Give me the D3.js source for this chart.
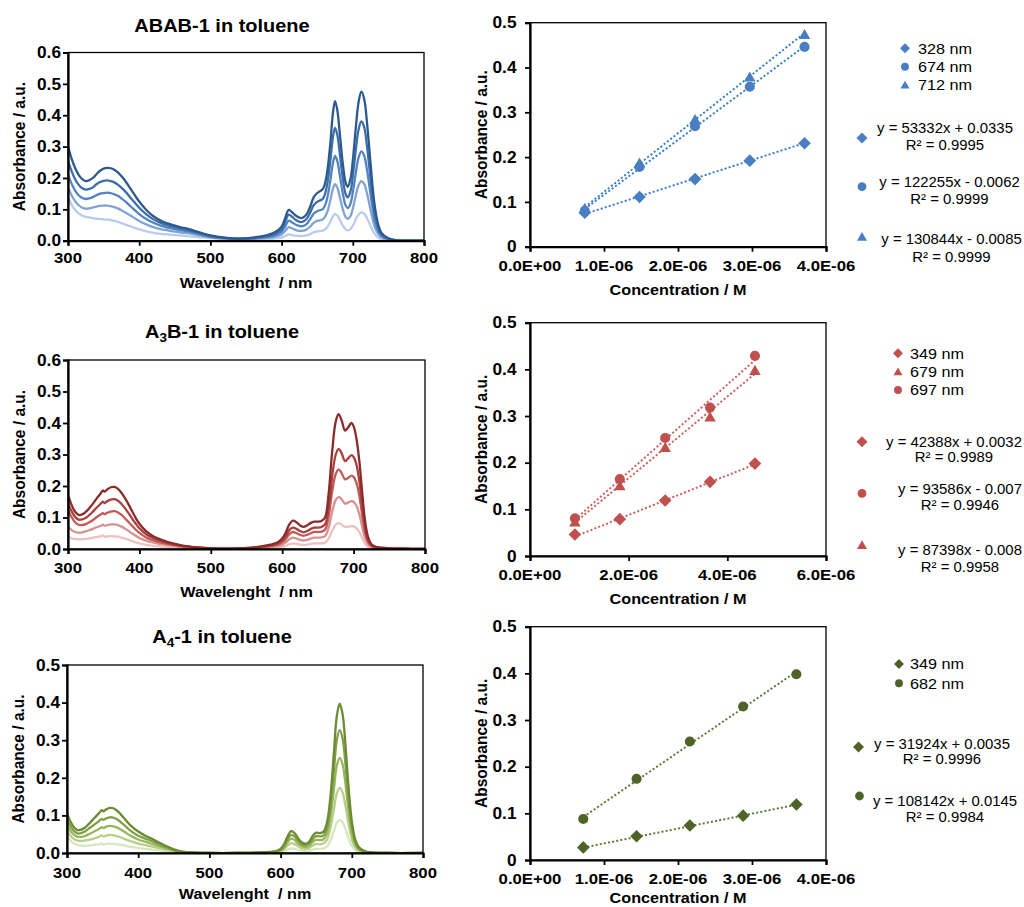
<!DOCTYPE html>
<html>
<head>
<meta charset="utf-8">
<script src="https://cdn.jsdelivr.net/npm/d3@7"></script>
<style>
  html, body { margin: 0; padding: 0; background: #fff; }
  svg { display: block; }
</style>
</head>
<body>
<svg id="fig" width="1024" height="907"></svg>
<script>
// ---------- UV-vis spectra (absorbance vs wavelength, five concentrations each) ----------
const WL_ABAB = [300,305,310,315,320,325,330,335,340,345,350,355,360,365,370,375,380,385,390,395,400,410,420,430,440,450,460,470,480,490,500,520,540,560,580,590,600,605,610,615,620,628,635,640,645,650,658,663,668,672,675,678,682,686,690,693,697,700,704,708,712,716,720,725,730,735,740,750,760,780,800];
const abab1 = [.140,.115,.098,.087,.080,.076,.074,.072,.070,.069,.068,.067,.066,.063,.060,.056,.052,.048,.044,.040,.036,.030,.025,.022,.020,.018,.016,.014,.012,.010,.008,.006,.005,.005,.006,.007,.010,.015,.020,.018,.016,.015,.017,.021,.027,.030,.032,.040,.058,.078,.085,.081,.065,.048,.036,.033,.038,.048,.067,.083,.090,.086,.071,.047,.024,.011,.005,.002,.001,0,0];
const abab2 = [.170,.145,.126,.113,.105,.102,.103,.106,.109,.111,.112,.112,.110,.107,.103,.097,.091,.084,.077,.070,.063,.052,.043,.037,.033,.029,.026,.023,.019,.015,.011,.007,.005,.006,.009,.012,.020,.031,.043,.039,.034,.031,.036,.045,.057,.063,.068,.085,.124,.165,.180,.171,.137,.100,.075,.070,.080,.102,.142,.176,.190,.181,.150,.098,.050,.024,.011,.003,.001,0,0];
const abab3 = [.210,.182,.160,.145,.136,.133,.135,.139,.145,.150,.152,.153,.152,.148,.143,.135,.126,.116,.105,.095,.085,.069,.057,.048,.042,.037,.033,.029,.024,.018,.013,.008,.005,.007,.012,.017,.029,.046,.064,.058,.051,.046,.053,.068,.086,.094,.101,.126,.185,.246,.270,.256,.205,.150,.112,.104,.120,.154,.213,.264,.285,.271,.225,.147,.075,.035,.016,.005,.001,0,0];
const abab4 = [.255,.222,.196,.178,.167,.163,.165,.170,.180,.187,.191,.192,.190,.186,.179,.169,.158,.145,.131,.118,.105,.084,.068,.057,.049,.043,.038,.033,.027,.021,.015,.009,.006,.009,.015,.021,.037,.060,.083,.076,.066,.059,.069,.089,.113,.124,.134,.167,.245,.328,.360,.340,.272,.198,.148,.138,.160,.205,.285,.353,.380,.362,.300,.196,.100,.047,.021,.006,.002,0,0];
const abab5 = [.300,.262,.232,.210,.196,.190,.193,.200,.212,.223,.230,.232,.231,.226,.218,.206,.192,.175,.158,.141,.125,.098,.078,.064,.055,.048,.042,.037,.030,.023,.017,.010,.007,.010,.018,.026,.045,.072,.098,.090,.080,.072,.084,.108,.138,.152,.165,.205,.300,.405,.445,.420,.335,.245,.185,.172,.200,.255,.355,.440,.475,.452,.375,.245,.125,.058,.026,.008,.002,0,0];

const WL_A3B = [300,305,310,315,320,325,330,335,340,345,349,351,355,360,365,370,375,380,385,390,395,400,410,420,430,440,450,460,470,480,500,520,540,560,580,590,595,600,605,610,615,620,625,630,635,640,645,650,655,660,665,670,675,679,683,688,692,697,700,704,708,712,716,720,725,730,740,750,770,800];
const a3b1 = [.039,.034,.032,.031,.031,.032,.034,.036,.038,.040,.043,.039,.040,.041,.040,.039,.036,.033,.029,.025,.021,.018,.013,.010,.008,.006,.005,.004,.003,.002,.001,.001,.001,.001,.003,.004,.005,.007,.010,.015,.018,.016,.014,.013,.014,.016,.018,.018,.018,.020,.033,.058,.077,.082,.078,.070,.071,.073,.072,.066,.054,.035,.017,.008,.003,.002,.001,.001,0,0];
const a3b2 = [.071,.060,.054,.052,.053,.056,.060,.064,.069,.073,.077,.074,.076,.078,.078,.076,.071,.064,.057,.049,.042,.035,.026,.020,.016,.012,.009,.007,.005,.003,.002,.001,.001,.002,.005,.008,.010,.014,.021,.031,.036,.033,.029,.027,.029,.033,.036,.036,.037,.041,.067,.119,.156,.165,.158,.144,.147,.152,.150,.137,.111,.071,.035,.016,.007,.003,.002,.001,0,0];
const a3b3 = [.124,.101,.085,.077,.076,.079,.085,.092,.101,.108,.114,.110,.115,.119,.120,.116,.108,.097,.085,.073,.061,.051,.036,.027,.021,.016,.012,.008,.006,.004,.002,.001,.001,.003,.008,.012,.015,.021,.032,.047,.054,.050,.045,.042,.045,.050,.054,.054,.055,.061,.103,.183,.238,.253,.242,.221,.225,.233,.229,.210,.170,.108,.054,.024,.010,.005,.002,.001,.001,0];
const a3b4 = [.145,.120,.102,.093,.094,.099,.108,.119,.131,.142,.150,.146,.152,.157,.158,.153,.143,.129,.113,.096,.080,.066,.046,.034,.026,.019,.014,.010,.007,.005,.002,.001,.002,.004,.010,.015,.019,.027,.041,.060,.068,.064,.057,.053,.057,.064,.068,.068,.070,.078,.131,.231,.300,.318,.305,.279,.287,.298,.292,.268,.216,.137,.069,.030,.012,.006,.003,.002,.001,0];
const a3b5 = [.171,.140,.118,.108,.110,.118,.130,.144,.160,.174,.186,.182,.189,.196,.197,.191,.178,.161,.141,.119,.098,.080,.055,.040,.030,.022,.016,.011,.008,.005,.002,.001,.002,.005,.012,.018,.023,.033,.052,.078,.090,.085,.075,.070,.075,.083,.087,.087,.089,.100,.175,.310,.405,.428,.410,.376,.385,.400,.390,.350,.280,.180,.090,.040,.015,.008,.004,.002,.001,0];

const WL_A4 = [300,305,310,315,320,325,330,335,340,345,349,351,355,360,365,370,375,380,390,400,410,420,430,440,450,460,470,480,500,540,580,590,595,600,605,610,615,620,625,630,635,640,645,650,655,660,665,670,675,679,683,687,691,695,700,705,710,720,730,750,800];
const a4_1 = [.045,.033,.025,.021,.019,.019,.020,.021,.022,.023,.025,.022,.024,.025,.024,.023,.022,.020,.016,.013,.011,.009,.007,.005,.003,.001,.001,0,0,0,0,.001,.001,.002,.005,.009,.012,.011,.008,.006,.005,.006,.009,.011,.011,.012,.017,.033,.060,.081,.088,.082,.064,.041,.019,.008,.003,.001,0,0,0];
const a4_2 = [.060,.046,.037,.033,.032,.033,.035,.037,.040,.043,.047,.044,.046,.048,.047,.045,.042,.038,.031,.025,.021,.017,.013,.009,.005,.002,.001,.001,0,0,.001,.002,.003,.005,.011,.020,.026,.023,.017,.012,.011,.013,.020,.024,.023,.025,.035,.066,.118,.159,.173,.161,.126,.081,.037,.015,.006,.002,.001,0,0];
const a4_3 = [.075,.059,.048,.043,.043,.045,.049,.054,.059,.064,.069,.066,.070,.072,.071,.068,.063,.057,.045,.036,.030,.024,.018,.012,.007,.003,.001,.001,0,0,.001,.002,.004,.007,.015,.029,.038,.034,.024,.018,.016,.019,.029,.035,.034,.036,.051,.096,.172,.233,.253,.236,.185,.118,.054,.022,.009,.002,.001,0,0];
const a4_4 = [.090,.071,.058,.052,.053,.057,.064,.071,.078,.085,.091,.088,.092,.095,.094,.090,.083,.075,.058,.046,.038,.031,.023,.015,.008,.003,.002,.001,0,0,.002,.003,.005,.009,.020,.037,.048,.043,.031,.023,.021,.025,.037,.045,.044,.046,.066,.124,.222,.301,.327,.305,.239,.152,.070,.029,.012,.003,.001,0,0];
const a4_5 = [.106,.083,.068,.061,.062,.067,.076,.086,.096,.106,.114,.111,.116,.120,.119,.113,.104,.093,.072,.057,.046,.037,.027,.018,.010,.004,.002,.001,0,0,.002,.004,.006,.011,.024,.045,.058,.052,.038,.028,.025,.030,.045,.054,.053,.056,.080,.150,.270,.365,.397,.370,.290,.185,.085,.035,.015,.004,.001,0,0];

// ---------- Calibration points (absorbance vs concentration) ----------
const CONC_ABAB = [0.74e-6, 1.48e-6, 2.23e-6, 2.97e-6, 3.71e-6];
const ABAB_328 = [0.076, 0.111, 0.151, 0.192, 0.231];
const ABAB_674 = [0.080, 0.178, 0.269, 0.357, 0.446];
const ABAB_712 = [0.086, 0.187, 0.284, 0.379, 0.474];

const CONC_A3B = [0.91e-6, 1.82e-6, 2.74e-6, 3.65e-6, 4.56e-6];
const A3B_349 = [0.046, 0.079, 0.119, 0.159, 0.198];
const A3B_679 = [0.073, 0.151, 0.233, 0.298, 0.398];
const A3B_697 = [0.081, 0.165, 0.253, 0.318, 0.429];

const CONC_A4 = [0.72e-6, 1.44e-6, 2.16e-6, 2.88e-6, 3.60e-6];
const A4_349 = [0.027, 0.051, 0.074, 0.095, 0.119];
const A4_682 = [0.088, 0.174, 0.254, 0.329, 0.398];

// Linear fits: slope, intercept, R²
const FIT_SLOPE_ABAB = [53332, 122255, 130844];
const FIT_INT_ABAB   = [0.0335, -0.0062, -0.0085];
const FIT_R2_ABAB    = [0.9995, 0.9999, 0.9999];
const FIT_SLOPE_A3B = [42388, 93586, 87398];
const FIT_INT_A3B   = [0.0032, -0.007, -0.008];
const FIT_R2_A3B    = [0.9989, 0.9946, 0.9958];
const FIT_SLOPE_A4 = [31924, 108142];
const FIT_INT_A4   = [0.0035, 0.0145];
const FIT_R2_A4    = [0.9996, 0.9984];

// ---------- Tick values ----------
const WL_TICKS = [300, 400, 500, 600, 700, 800];
const ABS_TICKS_06 = [0, 0.1, 0.2, 0.3, 0.4, 0.5, 0.6];
const ABS_TICKS_05 = [0, 0.1, 0.2, 0.3, 0.4, 0.5];
const CONC_TICKS_4 = [0, 1e-6, 2e-6, 3e-6, 4e-6];
const CONC_TICKS_6 = [0, 2e-6, 4e-6, 6e-6];

// ---------- Drawing ----------
const FONT = "'Liberation Sans', Arial, sans-serif";
const SX = 1.08;                         // slight horizontal widening of glyphs
const svg = d3.select("#fig");

const BLUES  = ["#B9CCE9", "#80A3D4", "#5283C2", "#3D6EAB", "#2D5A8E"];
const REDS   = ["#EBC2C1", "#D69290", "#C25A57", "#A9413E", "#8C2B2B"];
const GREENS = ["#D8E6BE", "#B7CF88", "#97B65E", "#80A044", "#6C8B34"];

function txt(g, x, y, s, o = {}) {
  const t = g.append("text")
    .attr("transform", `translate(${x},${y}) scale(${SX},1)`)
    .attr("font-family", FONT)
    .attr("font-size", o.size || 15)
    .attr("font-weight", o.bold ? "bold" : "normal")
    .attr("text-anchor", o.anchor || "middle")
    .attr("fill", "#000");
  if (o.dy) t.attr("dy", o.dy);
  t.text(s);
  return t;
}

function sciFmt(v) {
  if (v === 0) return "0.0E+00";
  const e = Math.floor(Math.log10(v) + 1e-9);
  const m = v / Math.pow(10, e);
  const es = (e < 0 ? "-" : "+") + String(Math.abs(e)).padStart(2, "0");
  return m.toFixed(1) + "E" + es;
}

function frame(g, L) {
  g.append("rect").attr("x", L.x0).attr("y", L.y0)
    .attr("width", L.x1 - L.x0).attr("height", L.y1 - L.y0)
    .attr("fill", "none").attr("stroke", "#000").attr("stroke-width", 1.3);
}

function axes(g, L, xs, ys, xt, yt, xf, yf, labOffY) {
  const ax = d3.axisBottom(xs).tickValues(xt).tickSize(5).tickFormat("");
  const ay = d3.axisLeft(ys).tickValues(yt).tickSize(5).tickFormat("");
  const gx = g.append("g").attr("transform", `translate(0,${L.y1})`).call(ax);
  const gy = g.append("g").attr("transform", `translate(${L.x0},0)`).call(ay);
  [gx, gy].forEach(a => {
    a.select(".domain").attr("stroke", "#000").attr("stroke-width", 2.2);
    a.selectAll(".tick line").attr("stroke", "#000").attr("stroke-width", 1.8);
  });
  xt.forEach(v => txt(g, xs(v), L.tickY, xf(v), { bold: true, size: 15.5 }));
  yt.forEach(v => txt(g, L.x0 - labOffY, ys(v), yf(v), { bold: true, size: 16, anchor: "end", dy: "0.36em" }));
}

function yTitle(g, x, y, s) {
  g.append("text")
    .attr("transform", `translate(${x},${y}) rotate(-90) scale(1,${SX})`)
    .attr("font-family", FONT).attr("font-size", 15.5).attr("font-weight", "bold")
    .attr("text-anchor", "middle").text(s);
}

function spectrumPanel(L, wl, curves, colors, yMax, yTicks, titleParts) {
  const g = svg.append("g");
  const xs = d3.scaleLinear().domain([300, 800]).range([L.x0, L.x1]);
  const ys = d3.scaleLinear().domain([0, yMax]).range([L.y1, L.y0]);
  const cid = "clip" + Math.round(L.y0);
  svg.append("clipPath").attr("id", cid).append("rect")
    .attr("x", L.x0).attr("y", L.y0).attr("width", L.x1 - L.x0).attr("height", L.y1 - L.y0);
  const line = d3.line().x(d => xs(d[0])).y(d => ys(d[1])).curve(d3.curveCatmullRom.alpha(0.5));
  const lg = g.append("g").attr("clip-path", `url(#${cid})`);
  curves.forEach((c, i) => {
    lg.append("path").datum(wl.map((w, k) => [w, c[k]]).filter(d => d[1] !== undefined))
      .attr("d", line).attr("fill", "none").attr("stroke", colors[i]).attr("stroke-width", 2.3)
      .attr("stroke-linejoin", "round");
  });
  frame(g, L);
  axes(g, L, xs, ys, WL_TICKS, yTicks, d => String(d), d => d.toFixed(1), 7);
  txt(g, (L.x0 + L.x1) / 2, L.xTitleY, "Wavelenght\u00a0 / nm", { bold: true, size: 15 });
  yTitle(g, L.yTitleX, (L.y0 + L.y1) / 2, "Absorbance / a.u.");
  // title with optional subscript
  const t = txt(g, 222, L.titleY, "", { bold: true, size: 18.5 });
  titleParts.forEach(p => {
    const sp = t.append("tspan").text(p.s);
    if (p.sub) sp.attr("font-size", 12.5).attr("dy", 4);
    else if (p.after) sp.attr("dy", -4);
  });
}

// square diamond, disc or triangle centred on (x, y); size = overall width
function marker(g, type, x, y, size, color) {
  const h = size / 2;
  let d;
  if (type === "diamond") d = `M0,${-h * 1.1}L${h * 1.1},0L0,${h * 1.1}L${-h * 1.1},0Z`;
  else if (type === "circle") d = d3.symbol(d3.symbolCircle, Math.PI * (h * 0.88) ** 2)();
  else d = `M0,${-h * 0.95}L${h},${h * 0.8}L${-h},${h * 0.8}Z`;
  g.append("path").attr("d", d).attr("transform", `translate(${x},${y})`).attr("fill", color);
}

function calibrationPanel(L, conc, series, types, fits, colors, xMax, xTicks, legend) {
  const g = svg.append("g");
  const xs = d3.scaleLinear().domain([0, xMax]).range([L.x0, L.x1]);
  const ys = d3.scaleLinear().domain([0, 0.5]).range([L.y1, L.y0]);
  // dotted trend lines from the fitted equations
  fits.slope.forEach((m, i) => {
    const xa = conc[0], xb = conc[conc.length - 1];
    g.append("line")
      .attr("x1", xs(xa)).attr("y1", ys(m * xa + fits.b[i]))
      .attr("x2", xs(xb)).attr("y2", ys(m * xb + fits.b[i]))
      .attr("stroke", colors.line).attr("stroke-width", 1.9).attr("stroke-dasharray", "2,2.2");
  });
  series.forEach((s, i) => {
    s.forEach((v, k) => marker(g, types[i], xs(conc[k]), ys(v), 11.5, colors.mark));
  });
  frame(g, L);
  axes(g, L, xs, ys, xTicks, ABS_TICKS_05, sciFmt, d => d === 0 ? "0" : d.toFixed(1), 13.5);
  txt(g, (L.x0 + L.x1) / 2, L.xTitleY, "Concentration / M", { bold: true, size: 15 });
  yTitle(g, L.yTitleX, (L.y0 + L.y1) / 2, "Absorbance / a.u.");

  // legend of wavelengths
  legend.rows.forEach(r => {
    marker(g, r.type, legend.mx, r.y, 9, colors.mark);
    txt(g, legend.tx, r.y, r.label, { size: 15, anchor: "start", dy: "0.36em" });
  });
  // fitted equations
  legend.eqs.forEach(e => {
    const i = e.fit;
    const b = fits.b[i];
    const eq = `y = ${fits.slope[i]}x ${b < 0 ? "-" : "+"} ${Math.abs(b)}`;
    marker(g, types[i], e.mx, e.my, 10, colors.mark);
    txt(g, e.tx, e.ty1, eq, { size: 13.8, dy: "0.36em" });
    txt(g, e.tx, e.ty2, `R² = ${fits.r2[i].toFixed(4)}`, { size: 13.8, dy: "0.36em" });
  });
}

// ABAB-1
spectrumPanel({ x0: 68, x1: 424, y0: 52.5, y1: 240.7, tickY: 263, xTitleY: 288, yTitleX: 25, titleY: 31.5 },
  WL_ABAB, [abab1, abab2, abab3, abab4, abab5], BLUES, 0.6, ABS_TICKS_06,
  [{ s: "ABAB-1 in toluene" }]);
calibrationPanel({ x0: 530, x1: 826, y0: 22.7, y1: 246.7, tickY: 271, xTitleY: 295, yTitleX: 487 },
  CONC_ABAB, [ABAB_328, ABAB_674, ABAB_712], ["diamond", "circle", "triangle"],
  { slope: FIT_SLOPE_ABAB, b: FIT_INT_ABAB, r2: FIT_R2_ABAB },
  { mark: "#4A7EC2", line: "#2E7ACD" }, 4e-6, CONC_TICKS_4,
  { mx: 905, tx: 918,
    rows: [{ type: "diamond", y: 48.3, label: "328 nm" }, { type: "circle", y: 66.7, label: "674 nm" }, { type: "triangle", y: 85, label: "712 nm" }],
    eqs: [{ fit: 0, mx: 862, my: 138, tx: 945, ty1: 128, ty2: 145 },
          { fit: 1, mx: 862, my: 186.7, tx: 949.5, ty1: 181.7, ty2: 199 },
          { fit: 2, mx: 862, my: 236.7, tx: 951.5, ty1: 239, ty2: 256.7 }] });

// A3B-1
spectrumPanel({ x0: 68, x1: 425, y0: 360, y1: 549, tickY: 573, xTitleY: 597, yTitleX: 25, titleY: 338 },
  WL_A3B, [a3b1, a3b2, a3b3, a3b4, a3b5], REDS, 0.6, ABS_TICKS_06,
  [{ s: "A" }, { s: "3", sub: true }, { s: "B-1 in toluene", after: true }]);
calibrationPanel({ x0: 530, x1: 826, y0: 322.7, y1: 556, tickY: 580, xTitleY: 603.5, yTitleX: 487 },
  CONC_A3B, [A3B_349, A3B_697, A3B_679], ["diamond", "circle", "triangle"],
  { slope: FIT_SLOPE_A3B, b: FIT_INT_A3B, r2: FIT_R2_A3B },
  { mark: "#C0504D", line: "#CD5B58" }, 6e-6, CONC_TICKS_6,
  { mx: 898, tx: 910,
    rows: [{ type: "diamond", y: 353.3, label: "349 nm" }, { type: "triangle", y: 371.7, label: "679 nm" }, { type: "circle", y: 390, label: "697 nm" }],
    eqs: [{ fit: 0, mx: 862, my: 441.7, tx: 954, ty1: 441.7, ty2: 457.5 },
          { fit: 1, mx: 862, my: 493.3, tx: 960, ty1: 489.3, ty2: 505 },
          { fit: 2, mx: 862, my: 545, tx: 960, ty1: 550, ty2: 566.7 }] });

// A4-1
spectrumPanel({ x0: 67, x1: 423, y0: 665, y1: 853, tickY: 878, xTitleY: 899, yTitleX: 24, titleY: 643 },
  WL_A4, [a4_1, a4_2, a4_3, a4_4, a4_5], GREENS, 0.5, ABS_TICKS_05,
  [{ s: "A" }, { s: "4", sub: true }, { s: "-1 in toluene", after: true }]);
calibrationPanel({ x0: 530, x1: 826, y0: 626.7, y1: 860, tickY: 884, xTitleY: 903, yTitleX: 487 },
  CONC_A4, [A4_349, A4_682], ["diamond", "circle"],
  { slope: FIT_SLOPE_A4, b: FIT_INT_A4, r2: FIT_R2_A4 },
  { mark: "#4F6228", line: "#5A7330" }, 4e-6, CONC_TICKS_4,
  { mx: 899, tx: 910,
    rows: [{ type: "diamond", y: 664, label: "349 nm" }, { type: "circle", y: 683.3, label: "682 nm" }],
    eqs: [{ fit: 0, mx: 858.5, my: 747, tx: 942, ty1: 744, ty2: 759.3 },
          { fit: 1, mx: 859.5, my: 796, tx: 945, ty1: 800.7, ty2: 816.7 }] });
</script>
</body>
</html>
